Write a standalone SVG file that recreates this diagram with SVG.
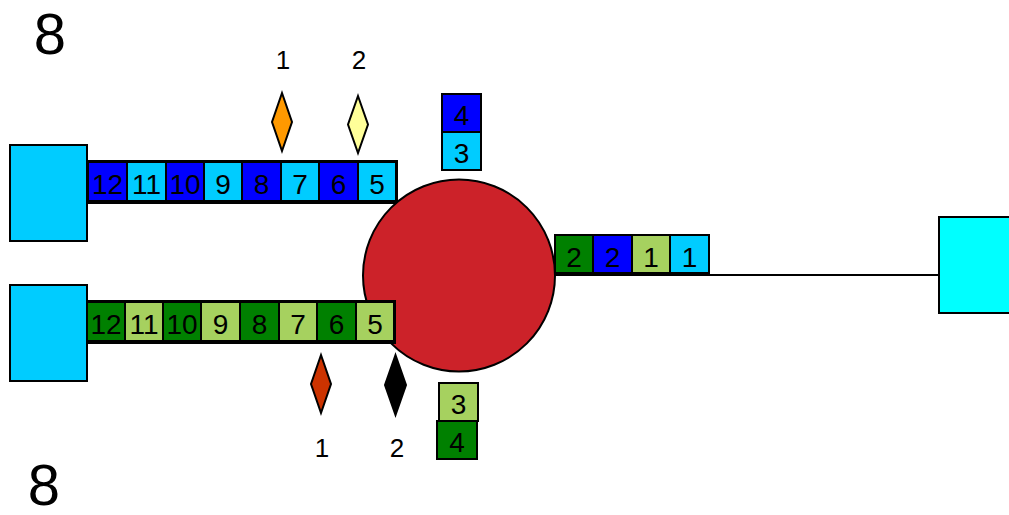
<svg xmlns="http://www.w3.org/2000/svg" width="1009" height="515" viewBox="0 0 1009 515">
<style>
.s{stroke:#000;stroke-width:2}
.t{font-family:"Liberation Sans",Arial,sans-serif;fill:#000;text-anchor:middle}
.c{font-size:28px}
.lab{font-size:26px}
.big{font-size:58px}
.db{fill:#0000FF}.cy{fill:#00CCFF}.dg{fill:#008000}.lg{fill:#A6D15F}
</style>
<rect width="1009" height="515" fill="#fff"/>
<g id="connectors">
<line x1="555" y1="275" x2="939" y2="275" stroke="#000" stroke-width="2"/>
</g>
<g id="left-top-box"><rect class="s" x="10" y="145" width="77" height="96" fill="#00CCFF"/></g>
<g id="left-bottom-box"><rect class="s" x="10" y="285" width="77" height="96" fill="#00CCFF"/></g>
<g id="right-box"><rect class="s" x="939" y="217" width="80" height="96" fill="#00FFFF"/></g>
<g id="top-tube">
<rect class="s" x="87" y="161" width="310" height="42" fill="#fff"/>
<rect class="s db" x="88" y="162" width="39" height="39"/><text class="t c" x="107.5" y="194">12</text>
<rect class="s cy" x="127" y="162" width="39" height="39"/><text class="t c" x="146.5" y="194">11</text>
<rect class="s db" x="166" y="162" width="38" height="39"/><text class="t c" x="185" y="194">10</text>
<rect class="s cy" x="204" y="162" width="38" height="39"/><text class="t c" x="223" y="194">9</text>
<rect class="s db" x="242" y="162" width="39" height="39"/><text class="t c" x="261.5" y="194">8</text>
<rect class="s cy" x="281" y="162" width="38" height="39"/><text class="t c" x="300" y="194">7</text>
<rect class="s db" x="319" y="162" width="39" height="39"/><text class="t c" x="338.5" y="194">6</text>
<rect class="s cy" x="358" y="162" width="38" height="39"/><text class="t c" x="377" y="194">5</text>
</g>
<g id="hub"><circle class="s" cx="459" cy="275.5" r="96" fill="#CC2229"/></g>
<g id="bottom-tube">
<rect class="s" x="87" y="301" width="308" height="42" fill="#fff"/>
<rect class="s dg" x="87" y="302" width="38" height="39"/><text class="t c" x="106" y="334">12</text>
<rect class="s lg" x="125" y="302" width="38" height="39"/><text class="t c" x="144" y="334">11</text>
<rect class="s dg" x="163" y="302" width="38" height="39"/><text class="t c" x="182" y="334">10</text>
<rect class="s lg" x="201" y="302" width="39" height="39"/><text class="t c" x="220.5" y="334">9</text>
<rect class="s dg" x="240" y="302" width="39" height="39"/><text class="t c" x="259.5" y="334">8</text>
<rect class="s lg" x="279" y="302" width="38" height="39"/><text class="t c" x="298" y="334">7</text>
<rect class="s dg" x="317" y="302" width="39" height="39"/><text class="t c" x="336.5" y="334">6</text>
<rect class="s lg" x="356" y="302" width="38" height="39"/><text class="t c" x="375" y="334">5</text>
</g>
<g id="right-cells">
<rect class="s dg" x="555" y="235" width="38" height="38"/><text class="t c" x="574" y="267">2</text>
<rect class="s db" x="593" y="235" width="39" height="38"/><text class="t c" x="612.5" y="267">2</text>
<rect class="s lg" x="632" y="235" width="38" height="38"/><text class="t c" x="651" y="267">1</text>
<rect class="s cy" x="670" y="235" width="39" height="38"/><text class="t c" x="689.5" y="267">1</text>
</g>
<g id="top-stack">
<rect class="s db" x="442" y="94" width="39" height="38"/><text class="t c" x="461.5" y="125">4</text>
<rect class="s cy" x="442" y="132" width="39" height="38"/><text class="t c" x="461.5" y="163">3</text>
</g>
<g id="bottom-stack">
<rect class="s lg" x="439" y="383" width="39" height="38"/><text class="t c" x="458.5" y="414">3</text>
<rect class="s dg" x="437" y="421" width="40" height="38"/><text class="t c" x="457" y="452">4</text>
</g>
<g id="marker-top-1">
<polygon class="s" points="282,93 292,122 282,151 272,122" fill="#FF9900"/>
<text class="t lab" x="283" y="69" font-size="26">1</text>
</g>
<g id="marker-top-2">
<polygon class="s" points="358,96 368,124.5 358,153 348,124.5" fill="#FFFF99"/>
<text class="t lab" x="359" y="69" font-size="26">2</text>
</g>
<g id="marker-bottom-1">
<polygon class="s" points="321,355 331,384 321,413 311,384" fill="#CC3300"/>
<text class="t lab" x="322" y="457" font-size="26">1</text>
</g>
<g id="marker-bottom-2">
<polygon class="s" points="395.5,355 406,385 395.5,415 385,385" fill="#000"/>
<text class="t lab" x="397" y="457" font-size="26">2</text>
</g>
<g id="labels">
<text class="t big" x="50" y="54">8</text>
<text class="t big" x="44" y="505">8</text>
</g>
</svg>
